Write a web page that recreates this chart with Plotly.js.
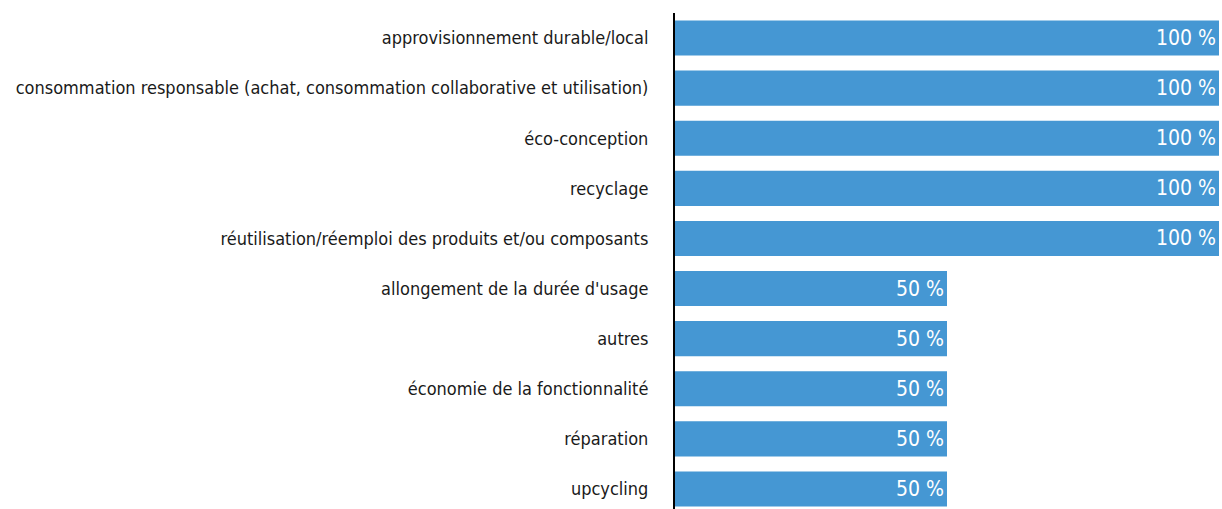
<!DOCTYPE html>
<html><head><meta charset="utf-8">
<script src="https://cdn.plot.ly/plotly-3.0.1.min.js"></script>
<style>html,body{margin:0;padding:0;background:#fff}#chart{width:1222px;height:509px}</style>
</head><body><div id="chart"></div>
<script>
const categories = [
  "approvisionnement durable/local",
  "consommation responsable (achat, consommation collaborative et utilisation)",
  "éco-conception",
  "recyclage",
  "réutilisation/réemploi des produits et/ou composants",
  "allongement de la durée d'usage",
  "autres",
  "économie de la fonctionnalité",
  "réparation",
  "upcycling"
];
const values = [100, 100, 100, 100, 100, 50, 50, 50, 50, 50];
const valueLabels = values.map(v => v + " %");

const FONT = "'DejaVu Sans Condensed', 'Liberation Sans Narrow', sans-serif";

Plotly.newPlot("chart", [{
  type: "bar",
  orientation: "h",
  y: categories,
  x: values,
  text: valueLabels,
  textposition: "inside",
  insidetextanchor: "end",
  textfont: {color: "#ffffff", size: 21, family: FONT},
  marker: {color: "#4597d3"},
  hoverinfo: "none",
  cliponaxis: false
}], {
  width: 1222, height: 509,
  margin: {l: 675, r: 3, t: 13, b: 0},
  bargap: 0.3,
  showlegend: false,
  paper_bgcolor: "#ffffff",
  plot_bgcolor: "#ffffff",
  xaxis: {range: [0, 100], visible: false, fixedrange: true},
  yaxis: {
    type: "category",
    range: [9.40, -0.5],
    showline: true, linecolor: "#000000", linewidth: 2,
    showgrid: false, zeroline: false,
    ticks: "", ticklabelstandoff: 21,
    tickfont: {family: FONT, size: 18, color: "#1a1a1a"},
    fixedrange: true
  }
}, {displayModeBar: false, staticPlot: true});
</script></body></html>
